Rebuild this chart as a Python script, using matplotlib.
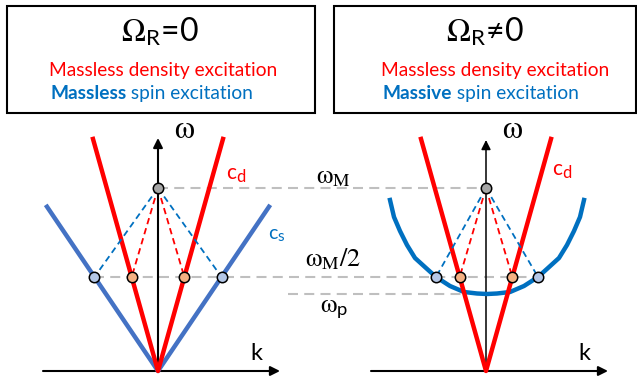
import matplotlib.pyplot as plt
from matplotlib.patches import Rectangle

plt.rcParams['font.family'] = ['Lato', 'DejaVu Sans']
plt.rcParams['mathtext.fontset'] = 'custom'
plt.rcParams['mathtext.rm'] = 'STIXGeneral'
plt.rcParams['mathtext.it'] = 'STIXGeneral:italic'
plt.rcParams['mathtext.sf'] = 'Lato'

# diagram values (pixel-like units, omega measured up from the k axis)
origin_x = [158, 486]          # k = 0 for left / right panel
c_d = 3.57                      # slope of density mode
c_s = 1.48                      # slope of spin mode (left panel)
k_d_max = 65
k_s_max = 111
omega_M = 183
omega_half = 94
omega_p = 77
# massive spin branch (half-width, height)
spin_k = [0, 10, 23, 37, 51, 61, 72, 80, 87, 93, 97]
spin_w = [77, 77.5, 79, 85, 94, 103, 113, 126, 140, 154, 171]
spin_center = 487
k_spin_dot = 51

red = '#ff0000'
blue_l = '#4472c4'
blue = '#0070c0'
grey = '#bfbfbf'

fig = plt.figure(figsize=(6.37, 3.81), dpi=100)
ax = fig.add_axes([0, 0, 1, 1])
ax.set_xlim(0, 637)
ax.set_ylim(-10, 371)
ax.axis('off')


def arrow(x0, y0, x1, y1, lw=1.5):
    ax.annotate('', xy=(x1, y1), xytext=(x0, y0),
                arrowprops=dict(arrowstyle='-|>', lw=lw, color='k', mutation_scale=14,
                                shrinkA=0, shrinkB=0))


def sub_label(x, y, main, sub, color, size):
    t = ax.text(x, y, main, color=color, fontsize=size, ha='left', va='baseline')
    ax.annotate(sub, xy=(1, 0), xycoords=t, xytext=(0.3, 1), textcoords='offset points',
                fontsize=size * 0.8, color=color, va='baseline')


def dots(xs, ys, fc):
    ax.plot(xs, ys, 'o', ms=7.5, mfc=fc, mec='k', mew=1.1, zorder=5)


# boxes with titles
for (x0, x1), title, xc, xr, xb, word in [((7, 315), r'$\Omega_{\mathsf{R}}$=0', 160, 163, 50, 'Massless'),
                                        ((334, 636), r'$\Omega_{\mathsf{R}}$≠0', 485, 495, 383, 'Massive')]:
    ax.add_patch(Rectangle((x0, 258), x1 - x0, 107, fill=False, lw=1.5, ec='k'))
    ax.text(xc, 329, title, fontsize=23, ha='center', va='baseline')
    ax.text(xr, 295, 'Massless density excitation', color=red, fontsize=13.8, ha='center', va='baseline')
    t = ax.text(xb, 272, word, color=blue, fontsize=13.8, fontweight='bold', va='baseline')
    ax.annotate(' spin excitation', xy=(1, 0), xycoords=t, color=blue, fontsize=13.8, va='bottom')

# grey guide lines
ax.plot([origin_x[0], origin_x[1]], [omega_M, omega_M], color=grey, lw=1.5, dashes=(4.8, 3), zorder=1)
ax.plot([origin_x[0] - omega_half / c_s, spin_center + k_spin_dot], [omega_half, omega_half],
        color=grey, lw=1.5, dashes=(4.8, 3), zorder=1)
ax.plot([288, origin_x[1] - 23], [omega_p, omega_p], color=grey, lw=1.5, dashes=(4.8, 3), zorder=1)

# axes
for i, x0 in enumerate(origin_x):
    arrow(x0 - 115, 0, x0 + 122, 0)
    arrow(x0, 0, x0, 233 if i == 0 else 231, lw=1.5 if i == 0 else 1.1)
    ax.text(x0 + 26, 233, 'ω', family='STIXGeneral', fontsize=23, ha='center', va='baseline')
    ax.text(x0 + 98, 11, 'k', fontsize=17, ha='center', va='baseline')

# left panel: massless density + massless spin
x0 = origin_x[0]
ax.plot([x0 - k_s_max, x0, x0 + k_s_max], [c_s * k_s_max, 0, c_s * k_s_max], color=blue_l, lw=3.2, zorder=3)
ax.plot([x0 - k_d_max, x0, x0 + k_d_max], [c_d * k_d_max, 0, c_d * k_d_max], color=red, lw=3.2, zorder=3)
k_red = omega_half / c_d
k_blue = omega_half / c_s
for s in (-1, 1):
    ax.plot([x0, x0 + s * k_blue], [omega_M, omega_half], color=blue, lw=1.3, dashes=(3.5, 2.3), zorder=4)
    ax.plot([x0, x0 + s * k_red], [omega_M, omega_half], color=red, lw=1.3, dashes=(3.5, 2.3), zorder=4)
dots([x0 - k_blue, x0 + k_blue], [omega_half] * 2, '#b4c7e7')
dots([x0 - k_red, x0 + k_red], [omega_half] * 2, '#f4b183')
dots([x0], [omega_M], '#a6a6a6')
sub_label(226, 192, 'c', 'd', red, 15)
sub_label(268, 132, 'c', 's', blue, 14)

# right panel: massless density + massive spin
x0 = origin_x[1]
sk = [-k for k in spin_k[::-1]] + spin_k[1:]
sw = spin_w[::-1] + spin_w[1:]
ax.plot([spin_center + k for k in sk], sw, color=blue, lw=3.2, zorder=3, solid_joinstyle='round')
ax.plot([x0 - k_d_max, x0, x0 + k_d_max], [c_d * k_d_max, 0, c_d * k_d_max], color=red, lw=3.2, zorder=3)
for s in (-1, 1):
    ax.plot([x0, spin_center + s * k_spin_dot], [omega_M, omega_half], color=blue, lw=1.3, dashes=(3.5, 2.3), zorder=4)
    ax.plot([x0, x0 + s * k_red], [omega_M, omega_half], color=red, lw=1.3, dashes=(3.5, 2.3), zorder=4)
dots([spin_center - k_spin_dot, spin_center + k_spin_dot], [omega_half] * 2, '#b4c7e7')
dots([x0 - k_red, x0 + k_red], [omega_half] * 2, '#f4b183')
dots([x0], [omega_M], '#a6a6a6')
sub_label(552, 196, 'c', 'd', red, 15)

# energy labels between panels
ax.text(333, 188, r'$\mathrm{\omega}_\mathrm{M}$', fontsize=19, ha='center', va='baseline')
ax.text(333, 105, r'$\mathrm{\omega}_\mathrm{M}/2$', fontsize=19, ha='center', va='baseline')
ax.text(334, 59, r'$\mathrm{\omega}_\mathsf{p}$', fontsize=19, ha='center', va='baseline')

fig.savefig('out.png', dpi=100)
